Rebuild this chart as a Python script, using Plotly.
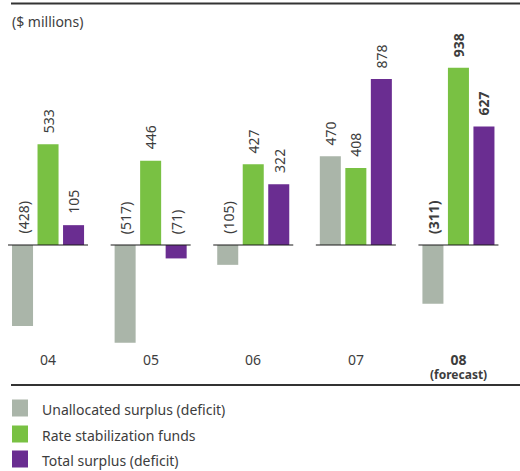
import plotly.graph_objects as go

categories = ["04", "05", "06", "07", "08"]
category_notes = ["", "", "", "", "(forecast)"]
bold_category = [False, False, False, False, True]
series_names = ["Unallocated surplus (deficit)", "Rate stabilization funds", "Total surplus (deficit)"]
unallocated = [-428, -517, -105, 470, -311]
rate_stab = [533, 446, 427, 408, 938]
total = [105, -71, 322, 878, 627]
colors = ["#aab5a9", "#79c143", "#6a2d91"]
unit_label = "($ millions)"

W, H = 520, 471
L, R, T, B = 7, 11, 30, 121
PW, PH = W - L - R, H - T - B
TXT = "#3d3d3d"
FONT = "Noto Sans"

def px_x(p):
    return (p - L) / PW

def px_y(p):
    return (H - B - p) / PH

fig = go.Figure()
series = [unallocated, rate_stab, total]
for name, vals, col in zip(series_names, series, colors):
    fig.add_trace(go.Bar(x=categories, y=vals, name=name, marker=dict(color=col, line=dict(width=0)),
                         showlegend=False))

def fmt(v):
    return f"({abs(v)})" if v < 0 else f"{v}"

nser = len(series)
slot = (1 - 0.254) / nser
annotations = []
for si, vals in enumerate(series):
    for ci, v in enumerate(vals):
        off = (si - (nser - 1) / 2) * slot
        t = fmt(v)
        if bold_category[ci]:
            t = f"<b>{t}</b>"
        annotations.append(dict(x=ci + off, y=max(v, 0), xref="x", yref="y", text=t, textangle=-90,
                                showarrow=False, xanchor="center", yanchor="bottom", yshift=9,
                                font=dict(family=FONT, size=14, color=TXT)))

for ci, c in enumerate(categories):
    t = f'<span style="font-size:14px">{c}</span>'
    if category_notes[ci]:
        t += f'<br><span style="font-size:12px">{category_notes[ci]}</span>'
    if bold_category[ci]:
        t = f"<b>{t}</b>"
    annotations.append(dict(x=ci, y=px_y(347.5), xref="x", yref="paper", text=t, showarrow=False,
                            xanchor="center", yanchor="top", font=dict(family=FONT, size=11, color=TXT)))

annotations.append(dict(x=px_x(10), y=px_y(21), xref="paper", yref="paper", text=unit_label, showarrow=False,
                        xanchor="left", yanchor="middle", font=dict(family=FONT, size=14, color=TXT)))

shapes = []
for ci in range(len(categories)):
    shapes.append(dict(type="line", xref="x", yref="y", x0=ci - 0.39, x1=ci + 0.39, y0=0, y1=0,
                       line=dict(color="#1a1a1a", width=1.2)))
shapes.append(dict(type="line", xref="paper", yref="paper", x0=px_x(11), x1=px_x(520), y0=px_y(3.5), y1=px_y(3.5),
                   line=dict(color="#333333", width=2)))
shapes.append(dict(type="line", xref="paper", yref="paper", x0=px_x(11), x1=px_x(520), y0=px_y(385), y1=px_y(385),
                   line=dict(color="#333333", width=2)))

leg_y = [408, 434, 459]
for name, col, yy in zip(series_names, colors, leg_y):
    shapes.append(dict(type="rect", xref="paper", yref="paper", x0=px_x(12), x1=px_x(28),
                       y0=px_y(yy - 8.5), y1=px_y(yy + 8.5), fillcolor=col, line=dict(width=0)))
    annotations.append(dict(x=px_x(40), y=px_y(yy + 1), xref="paper", yref="paper", text=name, showarrow=False,
                            xanchor="left", yanchor="middle", font=dict(family=FONT, size=14, color=TXT)))

zero_px = 245
scale = 0.189
fig.update_layout(
    width=W, height=H, margin=dict(l=L, r=R, t=T, b=B),
    paper_bgcolor="white", plot_bgcolor="white",
    barmode="group", bargap=0.254, bargroupgap=0.176,
    xaxis=dict(range=[-0.4, -0.4 + PW / 102.6], showticklabels=False, showgrid=False, zeroline=False,
               showline=False, ticks=""),
    yaxis=dict(range=[-(H - B - zero_px) / scale, (zero_px - T) / scale], showticklabels=False,
               showgrid=False, zeroline=False, showline=False, ticks=""),
    shapes=shapes, annotations=annotations, showlegend=False,
)

fig.write_html("out.html")
